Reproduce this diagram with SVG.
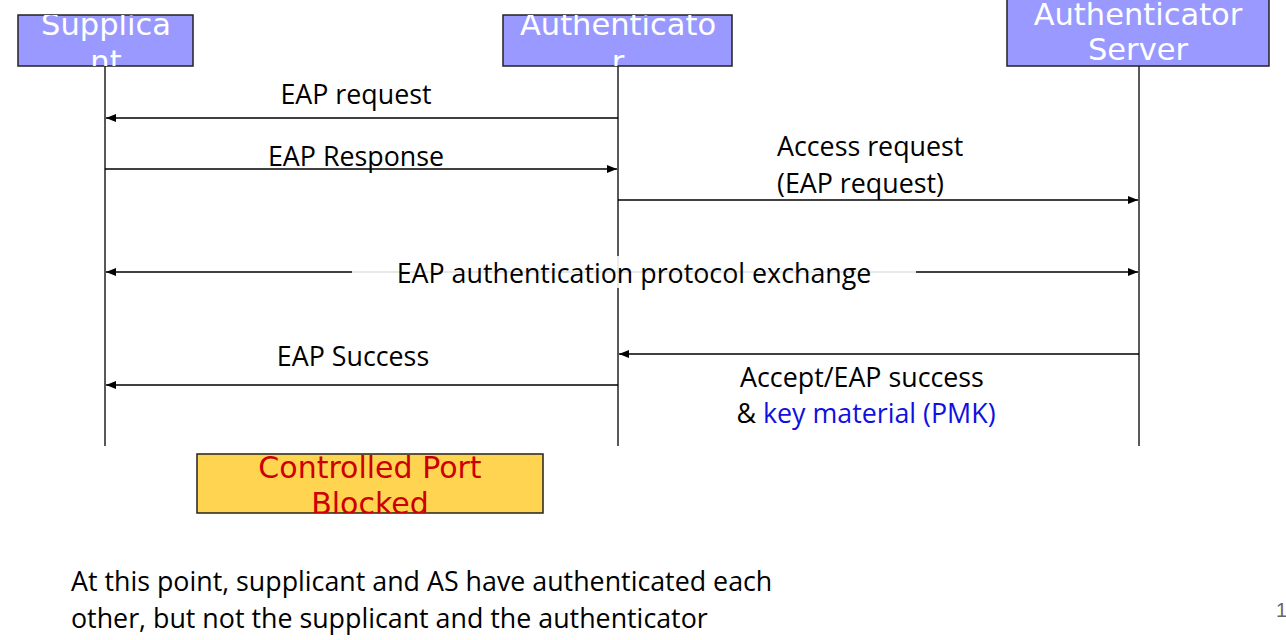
<svg xmlns="http://www.w3.org/2000/svg" width="1286" height="640" viewBox="0 0 1286 640">
<style>
.box{fill:#9999ff;stroke:#222;stroke-width:1.5}
.bt{font-family:"DejaVu Sans",sans-serif;font-size:30.5px;fill:#fff;text-anchor:middle}
.life{stroke:#222;stroke-width:1.5;fill:none}
.msg{stroke:#000;stroke-width:1.3;fill:none}
.lbl{font-family:"Open Sans","Noto Sans",sans-serif;font-size:26.8px;fill:#000}
</style>
<defs>
<marker id="ah" viewBox="0 0 10 10" refX="10" refY="5" markerWidth="10" markerHeight="10" markerUnits="userSpaceOnUse" orient="auto-start-reverse">
<path d="M0,1 L10,5 L0,9 Z" fill="#000"/>
</marker>
<clipPath id="c1"><rect x="18" y="15" width="175" height="51"/></clipPath>
<clipPath id="c2"><rect x="503" y="15" width="229" height="51"/></clipPath>
<clipPath id="c4"><rect x="197" y="454" width="346" height="59"/></clipPath>
</defs>
<g id="lifelines">
<line class="life" x1="105" y1="66" x2="105" y2="446"/>
<line class="life" x1="618" y1="66" x2="618" y2="446"/>
<line class="life" x1="1139" y1="66" x2="1139" y2="446"/>
</g>
<g id="supplicant">
<rect class="box" x="18" y="15" width="175" height="51"/>
<g clip-path="url(#c1)"><text class="bt" x="106" y="35">Supplica</text><text class="bt" x="106" y="72">nt</text></g>
</g>
<g id="authenticator">
<rect class="box" x="503" y="15" width="229" height="51"/>
<g clip-path="url(#c2)"><text class="bt" x="618" y="35">Authenticato</text><text class="bt" x="618" y="72">r</text></g>
</g>
<g id="server">
<rect class="box" x="1007" y="-20" width="262" height="86"/>
<text class="bt" x="1138" y="25">Authenticator</text>
<text class="bt" x="1138" y="60">Server</text>
</g>
<g id="connectors">
<line class="msg" x1="618" y1="118" x2="106" y2="118" marker-end="url(#ah)"/>
<line class="msg" x1="105" y1="169" x2="617" y2="169" marker-end="url(#ah)"/>
<line class="msg" x1="618" y1="200" x2="1138" y2="200" marker-end="url(#ah)"/>
<line class="msg" x1="106" y1="272" x2="1138" y2="272" marker-start="url(#ah)" marker-end="url(#ah)"/>
<line class="msg" x1="1139" y1="354" x2="619" y2="354" marker-end="url(#ah)"/>
<line class="msg" x1="618" y1="385" x2="106" y2="385" marker-end="url(#ah)"/>
</g>
<g id="labels">
<text class="lbl" x="356" y="104" text-anchor="middle">EAP request</text>
<text class="lbl" x="356" y="166" text-anchor="middle">EAP Response</text>
<text class="lbl" x="777" y="156">Access request</text>
<text class="lbl" x="777" y="193">(EAP request)</text>
<rect x="352" y="256" width="564" height="32" fill="#fff" fill-opacity="0.88"/>
<text class="lbl" x="634" y="283" text-anchor="middle">EAP authentication protocol exchange</text>
<text class="lbl" x="353" y="366" text-anchor="middle">EAP Success</text>
<text class="lbl" x="862" y="387" text-anchor="middle">Accept/EAP success</text>
<text class="lbl" x="866" y="423" text-anchor="middle">&amp; <tspan fill="#1010e0">key material (PMK)</tspan></text>
</g>
<g id="port">
<rect x="197" y="454" width="346" height="59" fill="#ffd451" stroke="#222" stroke-width="1.5"/>
<g clip-path="url(#c4)"><text x="370" y="478" font-family="DejaVu Sans,sans-serif" font-size="30" fill="#cc0000" text-anchor="middle">Controlled Port</text>
<text x="370" y="514" font-family="DejaVu Sans,sans-serif" font-size="30" fill="#cc0000" text-anchor="middle">Blocked</text></g>
</g>
<g id="note">
<text class="lbl" x="71" y="591">At this point, supplicant and AS have authenticated each</text>
<text class="lbl" x="71" y="628">other, but not the supplicant and the authenticator</text>
</g>
<text x="1276" y="617" font-family="Liberation Sans,sans-serif" font-size="20" fill="#666">1</text>
</svg>
